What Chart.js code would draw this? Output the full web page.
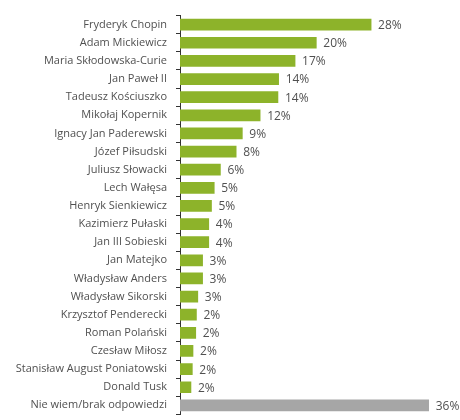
<!DOCTYPE html>
<html>
<head>
<meta charset="utf-8">
<script src="https://cdn.jsdelivr.net/npm/chart.js@4"></script>
<style>
  html, body { margin: 0; padding: 0; background: #fff; overflow: hidden; }
  canvas { display: block; }
</style>
</head>
<body>
<canvas id="chart" width="460" height="430"></canvas>
<script>
// Kategorie i wartości
const names = [
  'Fryderyk Chopin', 'Adam Mickiewicz', 'Maria Skłodowska-Curie', 'Jan Paweł II',
  'Tadeusz Kościuszko', 'Mikołaj Kopernik', 'Ignacy Jan Paderewski', 'Józef Piłsudski',
  'Juliusz Słowacki', 'Lech Wałęsa', 'Henryk Sienkiewicz', 'Kazimierz Pułaski',
  'Jan III Sobieski', 'Jan Matejko', 'Władysław Anders', 'Władysław Sikorski',
  'Krzysztof Penderecki', 'Roman Polański', 'Czesław Miłosz',
  'Stanisław August Poniatowski', 'Donald Tusk', 'Nie wiem/brak odpowiedzi'
];
const values = [27.9, 19.9, 16.8, 14.4, 14.3, 11.7, 9.1, 8.2, 5.9, 5.0, 4.6, 4.2,
  4.2, 3.3, 3.3, 2.6, 2.4, 2.3, 1.9, 1.8, 1.6, 36.3];
const pctLabels = ['28%', '20%', '17%', '14%', '14%', '12%', '9%', '8%', '6%', '5%',
  '5%', '4%', '4%', '3%', '3%', '3%', '2%', '2%', '2%', '2%', '2%', '36%'];

const green = '#8db32a';
const grey = '#a6a6a6';
const textColor = '#505050';
const font = { family: '"Open Sans", sans-serif', size: 11 };

// etykiety z procentami na końcu słupków
const valueLabels = {
  id: 'valueLabels',
  afterDatasetsDraw(chart) {
    const ctx = chart.ctx;
    const meta = chart.getDatasetMeta(0);
    ctx.save();
    ctx.font = `12px ${font.family}`;
    ctx.fillStyle = textColor;
    ctx.textAlign = 'left';
    ctx.textBaseline = 'middle';
    meta.data.forEach((bar, i) => {
      ctx.fillText(pctLabels[i], bar.x + 7, bar.y + 1);
    });
    ctx.restore();
  }
};

new Chart(document.getElementById('chart'), {
  type: 'bar',
  data: {
    labels: names,
    datasets: [{
      data: values,
      backgroundColor: values.map((v, i) => i === values.length - 1 ? grey : green),
      barThickness: 11
    }]
  },
  options: {
    indexAxis: 'y',
    responsive: false,
    animation: false,
    layout: { padding: { top: 14, bottom: 7, right: 6, left: 0 } },
    plugins: { legend: { display: false }, tooltip: { enabled: false } },
    scales: {
      x: {
        display: false,
        min: 0,
        max: 40
      },
      y: {
        afterFit(scale) { scale.width = 180; },
        border: { display: true, color: '#333', width: 1 },
        grid: {
          offset: true,
          drawOnChartArea: false,
          drawTicks: true,
          tickLength: 4,
          color: '#333'
        },
        ticks: {
          color: textColor,
          font: font,
          padding: 9,
          autoSkip: false
        }
      }
    }
  },
  plugins: [valueLabels]
});
</script>
</body>
</html>
